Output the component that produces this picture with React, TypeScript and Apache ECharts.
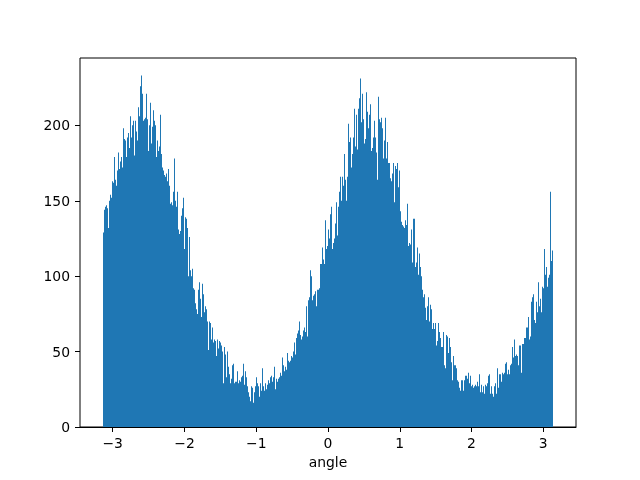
import React, { useEffect, useRef } from 'react';
import * as echarts from 'echarts';

// Histogram counts, 450 equal bins spanning [-pi, pi]
const counts: number[] = [
  129,144,146,147,145,132,150,154,152,163,
  162,179,164,160,170,182,171,176,179,172,
  198,191,190,179,192,195,185,206,192,200,
  203,180,203,196,190,212,206,226,233,221,
  203,204,205,221,204,183,200,215,188,199,
  210,203,200,179,190,183,186,207,181,172,
  170,167,166,168,163,171,160,148,149,147,
  156,178,150,146,156,131,128,130,140,145,
  152,118,139,138,132,100,126,104,100,105,
  92,91,82,78,75,91,96,85,73,95,
  88,76,80,78,70,51,70,69,58,66,
  56,58,57,47,58,52,57,56,54,50,
  29,53,48,33,50,40,35,29,32,41,
  42,29,30,30,37,29,31,30,33,34,
  42,28,37,33,27,23,20,17,27,26,
  16,23,27,33,29,27,20,29,24,39,
  27,24,29,25,28,31,29,33,34,30,
  33,40,25,32,30,32,33,36,34,46,
  41,37,40,38,49,44,43,44,47,46,
  50,56,48,59,62,64,70,61,58,60,
  64,66,63,80,60,84,86,104,100,84,
  87,88,90,80,91,91,92,108,108,119,
  111,108,137,118,120,131,125,141,146,118,
  122,125,135,149,127,146,156,166,150,166,
  160,181,164,150,166,201,189,192,172,181,
  192,211,186,207,184,211,218,231,202,221,
  204,188,191,222,209,198,207,214,183,185,
  192,203,192,182,164,219,204,202,205,198,
  178,190,205,178,189,175,175,165,163,168,
  175,149,173,171,175,159,170,143,136,134,
  133,132,137,134,148,120,122,121,131,109,
  138,138,106,109,119,101,115,106,100,91,
  86,88,79,71,80,86,70,81,78,65,
  69,65,69,54,57,69,63,59,53,53,
  63,41,39,61,60,49,59,53,43,31,
  47,41,41,39,31,30,26,24,31,31,
  24,31,34,34,32,36,29,34,27,28,
  26,27,28,27,30,27,35,23,28,23,
  27,22,28,27,29,34,35,22,27,22,
  20,27,29,22,39,26,35,35,30,36,
  35,36,42,43,35,38,35,41,42,53,
  46,58,47,48,47,41,54,54,36,55,
  55,59,59,66,66,73,58,60,83,86,
  88,71,69,83,76,96,80,85,76,93,
  92,118,101,106,93,99,101,156,110,117,
];
const xTicks = [-3, -2, -1, 0, 1, 2, 3];
const yTicks = [0, 50, 100, 150, 200];
const xLabel = 'angle';
const rangeLo = -Math.PI;
const rangeHi = Math.PI;

export default function App() {
  const ref = useRef<HTMLDivElement>(null);
  useEffect(() => {
    const chart = echarts.init(ref.current!, undefined, { renderer: 'svg' });
    const n = counts.length;
    const w = (rangeHi - rangeLo) / n;
    const data = counts.map((c, i) => [rangeLo + i * w, rangeLo + (i + 1) * w, c]);
    const span = rangeHi - rangeLo;
    const ymax = Math.max(...counts) * 1.05;
    const font = 'DejaVu Sans';
    const fs = 13.9;
    const minus = (v: number) => String(v).replace('-', '\u2212');
    chart.setOption({
      animation: false,
      grid: {
        left: 80, right: 64, top: 58, bottom: 53,
        show: true, borderColor: '#000', borderWidth: 1, backgroundColor: 'transparent',
      },
      xAxis: {
        type: 'value',
        min: rangeLo - 0.05 * span,
        max: rangeHi + 0.05 * span,
        name: xLabel,
        nameLocation: 'middle',
        nameGap: 28,
        nameTextStyle: { color: '#000', fontSize: fs, fontFamily: font, verticalAlign: 'top' },
        axisLine: { show: true, onZero: false, lineStyle: { color: '#000', width: 1 } },
        axisTick: { show: true, length: 5, lineStyle: { color: '#000', width: 1 }, customValues: xTicks },
        axisLabel: { customValues: xTicks, formatter: minus, color: '#000', fontSize: fs, fontFamily: font, margin: 9 },
        splitLine: { show: false },
      },
      yAxis: {
        type: 'value',
        min: 0,
        max: ymax,
        axisLine: { show: false, onZero: false },
        axisTick: { show: true, length: 5, lineStyle: { color: '#000', width: 1 }, customValues: yTicks },
        axisLabel: { customValues: yTicks, formatter: minus, color: '#000', fontSize: fs, fontFamily: font, margin: 10 },
        splitLine: { show: false },
      },
      series: [
        {
          type: 'custom',
          data,
          encode: { x: [0, 1], y: 2 },
          renderItem: (params: any, api: any) => {
            const p0 = api.coord([api.value(0), api.value(2)]);
            const p1 = api.coord([api.value(1), 0]);
            const xl = Math.round(p0[0]);
            const xr = Math.max(Math.round(p1[0]), xl + 1);
            return {
              type: 'rect',
              shape: { x: xl, y: p0[1], width: xr - xl, height: p1[1] - p0[1] },
              style: { fill: '#1f77b4' },
            };
          },
        },
      ],
    });
    return () => chart.dispose();
  }, []);
  return <div ref={ref} style={{ position: 'fixed', left: 0, top: 0, width: 640, height: 480 }} />;
}
